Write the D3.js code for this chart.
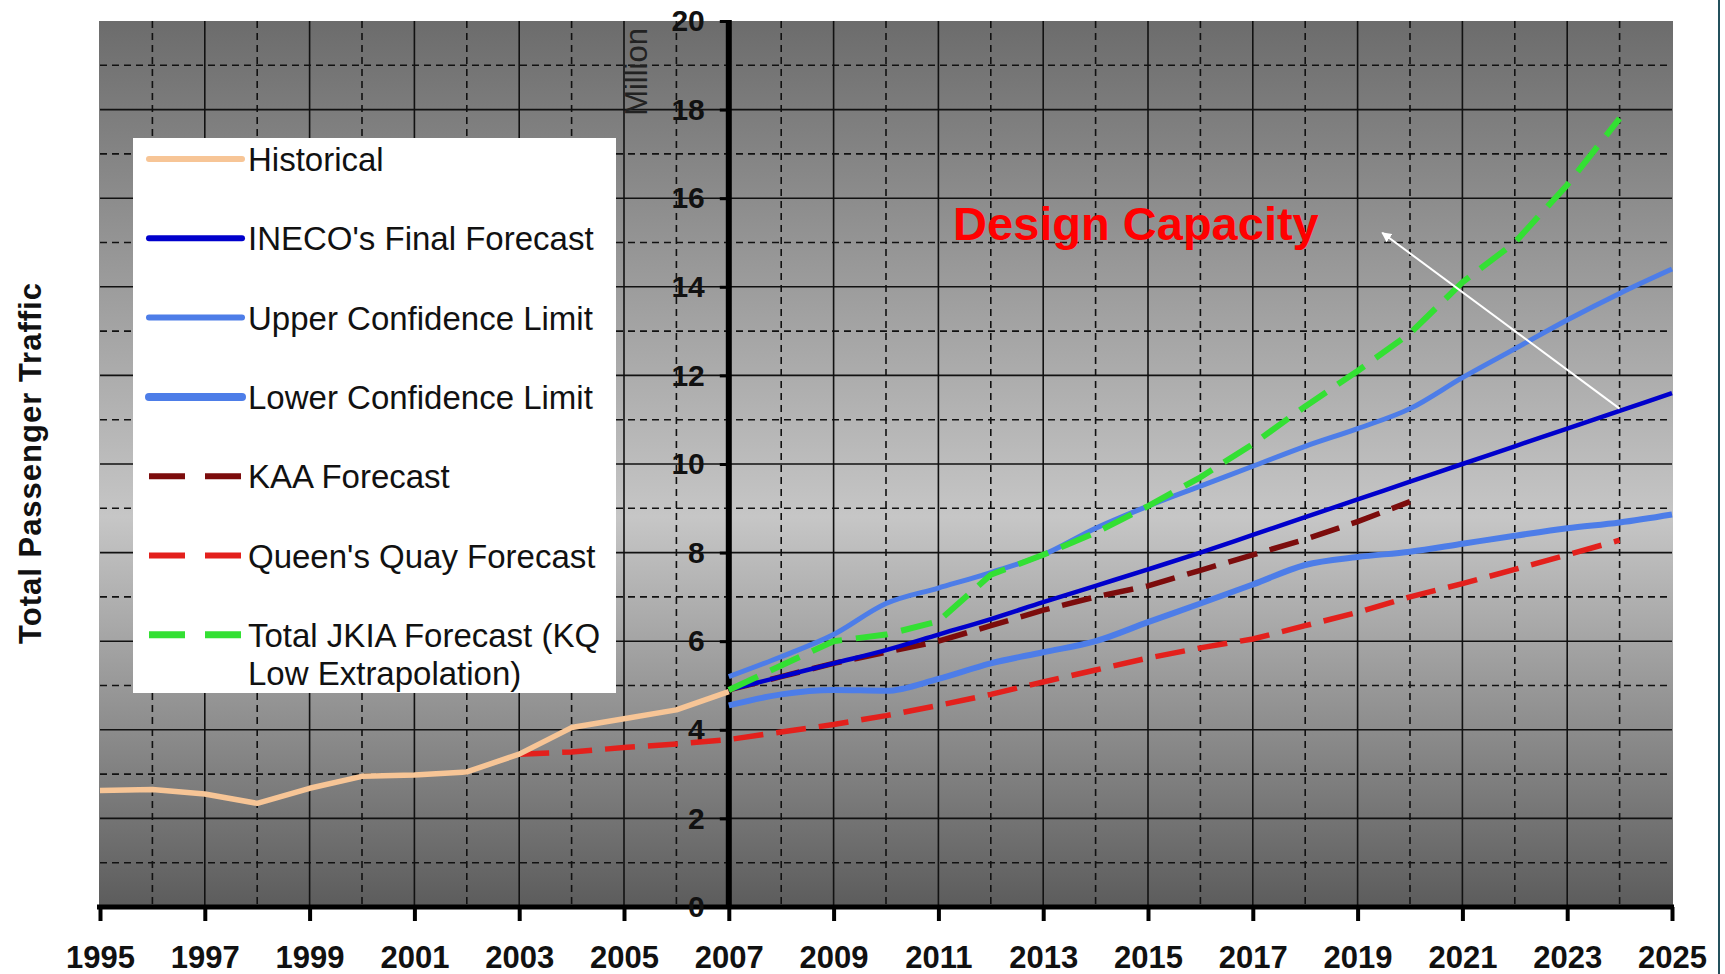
<!DOCTYPE html>
<html>
<head>
<meta charset="utf-8">
<script src="https://cdn.jsdelivr.net/npm/d3@7"></script>
<style>
  html, body { margin: 0; padding: 0; background: #ffffff; }
  svg { display: block; font-family: "Liberation Sans", Arial, sans-serif; }
</style>
</head>
<body>
<svg id="chart" width="1725" height="974"></svg>
<script>
// ---------- data ----------
const histYears = [1995,1996,1997,1998,1999,2000,2001,2002,2003,2004,2005,2006,2007];
const historical = [2.63,2.65,2.55,2.34,2.68,2.95,2.98,3.05,3.45,4.05,4.25,4.45,4.86];

const fcYears = [2007,2008,2009,2010,2011,2012,2013,2014,2015,2016,2017,2018,2019,2020,2021,2022,2023,2024,2025];
const ineco = [4.9,5.2,5.5,5.8,6.15,6.5,6.88,7.25,7.62,8.0,8.4,8.8,9.2,9.6,10.0,10.4,10.8,11.2,11.6];
const upper = [5.2,5.65,6.15,6.85,7.2,7.55,7.95,8.55,9.05,9.5,9.95,10.4,10.8,11.25,11.95,12.6,13.25,13.85,14.4];
const lower = [4.55,4.8,4.9,4.88,5.15,5.5,5.75,6.0,6.43,6.85,7.28,7.72,7.9,8.02,8.2,8.38,8.55,8.68,8.86];

const kaaYears = [2007,2008,2009,2010,2011,2012,2013,2014,2015,2016,2017,2018,2019,2020];
const kaa = [4.9,5.2,5.5,5.75,6.0,6.35,6.7,7.0,7.25,7.6,7.95,8.3,8.7,9.15];

const qqYears = [2003,2004,2005,2006,2007,2008,2009,2010,2011,2012,2013,2014,2015,2016,2017,2018,2019,2020,2021,2022,2023,2024];
const queensQuay = [3.45,3.5,3.6,3.68,3.78,3.95,4.12,4.32,4.55,4.8,5.08,5.35,5.62,5.85,6.05,6.35,6.65,7.0,7.3,7.62,7.95,8.28];

const jkiaYears = [2007,2008,2009,2010,2011,2012,2013,2014,2015,2016,2017,2018,2019,2020,2021,2022,2023,2024];
const jkia = [4.9,5.45,6.0,6.15,6.45,7.5,7.95,8.45,9.05,9.7,10.45,11.3,12.1,12.95,14.1,15.0,16.3,17.8];

const xTickLabels = [1995,1997,1999,2001,2003,2005,2007,2009,2011,2013,2015,2017,2019,2021,2023,2025];
const yTickLabels = [0,2,4,6,8,10,12,14,16,18,20];

const legendItems = [
  {name: "Historical", color: "#f7c596", width: 6, dash: null},
  {name: "INECO's Final Forecast", color: "#0000cc", width: 6, dash: null},
  {name: "Upper Confidence Limit", color: "#4d7de8", width: 6, dash: null},
  {name: "Lower Confidence Limit", color: "#4d7de8", width: 8, dash: null},
  {name: "KAA Forecast", color: "#7c0c0c", width: 6, dash: "36,20"},
  {name: "Queen's Quay Forecast", color: "#e3201c", width: 6, dash: "36,20"},
  {name: ["Total JKIA Forecast (KQ", "Low Extrapolation)"], color: "#33e033", width: 7, dash: "36,20"}
];

// ---------- layout ----------
const svg = d3.select("#chart");
const plot = {left: 100, right: 1672, top: 21, bottom: 907};

const x = d3.scaleLinear().domain([1995, 2025]).range([plot.left, plot.right]);
const y = d3.scaleLinear().domain([0, 20]).range([plot.bottom, plot.top]);

// background gradient
const defs = svg.append("defs");
const grad = defs.append("linearGradient").attr("id", "bg").attr("x1", 0).attr("y1", 0).attr("x2", 0).attr("y2", 1);
grad.append("stop").attr("offset", "0%").attr("stop-color", "#6c6c6c");
grad.append("stop").attr("offset", "56%").attr("stop-color", "#c6c6c6");
grad.append("stop").attr("offset", "100%").attr("stop-color", "#5c5c5c");

svg.append("rect")
  .attr("x", x(1995) - 1).attr("y", y(20))
  .attr("width", x(2025) - x(1995) + 2).attr("height", y(0) - y(20))
  .attr("fill", "url(#bg)");

// grid
const g = svg.append("g");
const allYears = d3.range(1996, 2025);
g.selectAll("line.vg").data(allYears).join("line")
  .attr("x1", d => x(d)).attr("x2", d => x(d))
  .attr("y1", y(20)).attr("y2", y(0))
  .attr("stroke", "#111").attr("stroke-width", 1.6)
  .attr("stroke-dasharray", d => d % 2 === 0 ? "7,5" : null);
const allVals = d3.range(1, 20);
g.selectAll("line.hg").data(allVals).join("line")
  .attr("x1", x(1995)).attr("x2", x(2025))
  .attr("y1", d => y(d)).attr("y2", d => y(d))
  .attr("stroke", "#111").attr("stroke-width", 1.6)
  .attr("stroke-dasharray", d => d % 2 === 1 ? "7,5" : null);

// x axis
const xAxis = d3.axisBottom(x).tickValues(xTickLabels).tickSize(14).tickFormat(d3.format("d"));
const xa = svg.append("g").attr("transform", `translate(0,${y(0)})`).call(xAxis);
xa.select(".domain").attr("stroke", "#000").attr("stroke-width", 5).attr("d", `M${x(1995)-3},0H${x(2025)+2}`);
xa.selectAll(".tick line").attr("stroke", "#000").attr("stroke-width", 4);
xa.selectAll(".tick text")
  .attr("y", 61).attr("dy", 0)
  .attr("font-size", 31).attr("font-weight", "bold").attr("fill", "#111");

// y axis at 2007
const yAxis = d3.axisLeft(y).tickValues(yTickLabels).tickSize(9).tickPadding(15);
const ya = svg.append("g").attr("transform", `translate(${x(2007)},0)`).call(yAxis);
ya.select(".domain").attr("stroke", "#000").attr("stroke-width", 6).attr("d", `M0,${y(0)}V${y(20)-1}`);
ya.selectAll(".tick line").attr("stroke", "#000").attr("stroke-width", 3);
ya.selectAll(".tick text").attr("font-size", 30).attr("font-weight", "bold").attr("fill", "#111");

// "Million"
svg.append("text")
  .attr("transform", `translate(${x(2007) - 82},${y(18.85)}) rotate(-90)`)
  .attr("text-anchor", "middle").attr("font-size", 31).attr("fill", "#222")
  .text("Million");

// y title
svg.append("text")
  .attr("transform", `translate(41,463) rotate(-90)`)
  .attr("text-anchor", "middle").attr("font-size", 31).attr("font-weight", "bold")
  .attr("letter-spacing", 1).attr("fill", "#111")
  .text("Total Passenger Traffic");

// ---------- series ----------
function drawSeries(years, vals, color, width, dash, curve) {
  const line = d3.line().x((d, i) => x(years[i])).y(d => y(d)).curve(curve || d3.curveLinear);
  svg.append("path").datum(vals)
    .attr("d", line)
    .attr("fill", "none")
    .attr("stroke", color)
    .attr("stroke-width", width)
    .attr("stroke-dasharray", dash)
    .attr("stroke-linejoin", "round");
}
drawSeries(qqYears, queensQuay, "#e3201c", 5.5, "30,13");
drawSeries(kaaYears, kaa, "#7c0c0c", 5.5, "30,13");
drawSeries(fcYears, lower, "#4d7de8", 6, null, d3.curveMonotoneX);
drawSeries(fcYears, upper, "#4d7de8", 5, null, d3.curveMonotoneX);
drawSeries(fcYears, ineco, "#0000cc", 4.5, null, d3.curveMonotoneX);
drawSeries(jkiaYears, jkia, "#33e033", 6, "32,14");
drawSeries(histYears, historical, "#f7c596", 5.5, null);

// ---------- annotation ----------
defs.append("marker").attr("id", "arrow")
  .attr("viewBox", "0 0 10 10").attr("refX", 9).attr("refY", 5)
  .attr("markerWidth", 5).attr("markerHeight", 5).attr("orient", "auto")
  .append("path").attr("d", "M0,0 L10,5 L0,10 z").attr("fill", "#ffffff");
svg.append("line")
  .attr("x1", x(2024)).attr("y1", y(11.25))
  .attr("x2", x(2019.47)).attr("y2", y(15.22))
  .attr("stroke", "#ffffff").attr("stroke-width", 2)
  .attr("marker-end", "url(#arrow)");
svg.append("text")
  .attr("x", x(2011.28)).attr("y", y(15.06))
  .attr("font-size", 47).attr("font-weight", "bold").attr("fill", "#ff0000")
  .text("Design Capacity");

// ---------- legend ----------
const lg = svg.append("g");
lg.append("rect").attr("x", 133).attr("y", 138).attr("width", 483).attr("height", 555).attr("fill", "#ffffff");
legendItems.forEach((it, i) => {
  const cy = 159 + i * 79.3;
  lg.append("line").attr("x1", 149).attr("x2", 242).attr("y1", cy).attr("y2", cy)
    .attr("stroke", it.color).attr("stroke-width", it.width)
    .attr("stroke-dasharray", it.dash).attr("stroke-linecap", it.dash ? "butt" : "round");
  const names = Array.isArray(it.name) ? it.name : [it.name];
  names.forEach((n, j) => {
    lg.append("text").attr("x", 248).attr("y", cy + 12 + j * 38)
      .attr("font-size", 33).attr("fill", "#111").text(n);
  });
});

// slide border on the right
svg.append("line").attr("x1", 1719).attr("x2", 1719).attr("y1", 0).attr("y2", 974)
  .attr("stroke", "#23505c").attr("stroke-width", 2);
</script>
</body>
</html>
